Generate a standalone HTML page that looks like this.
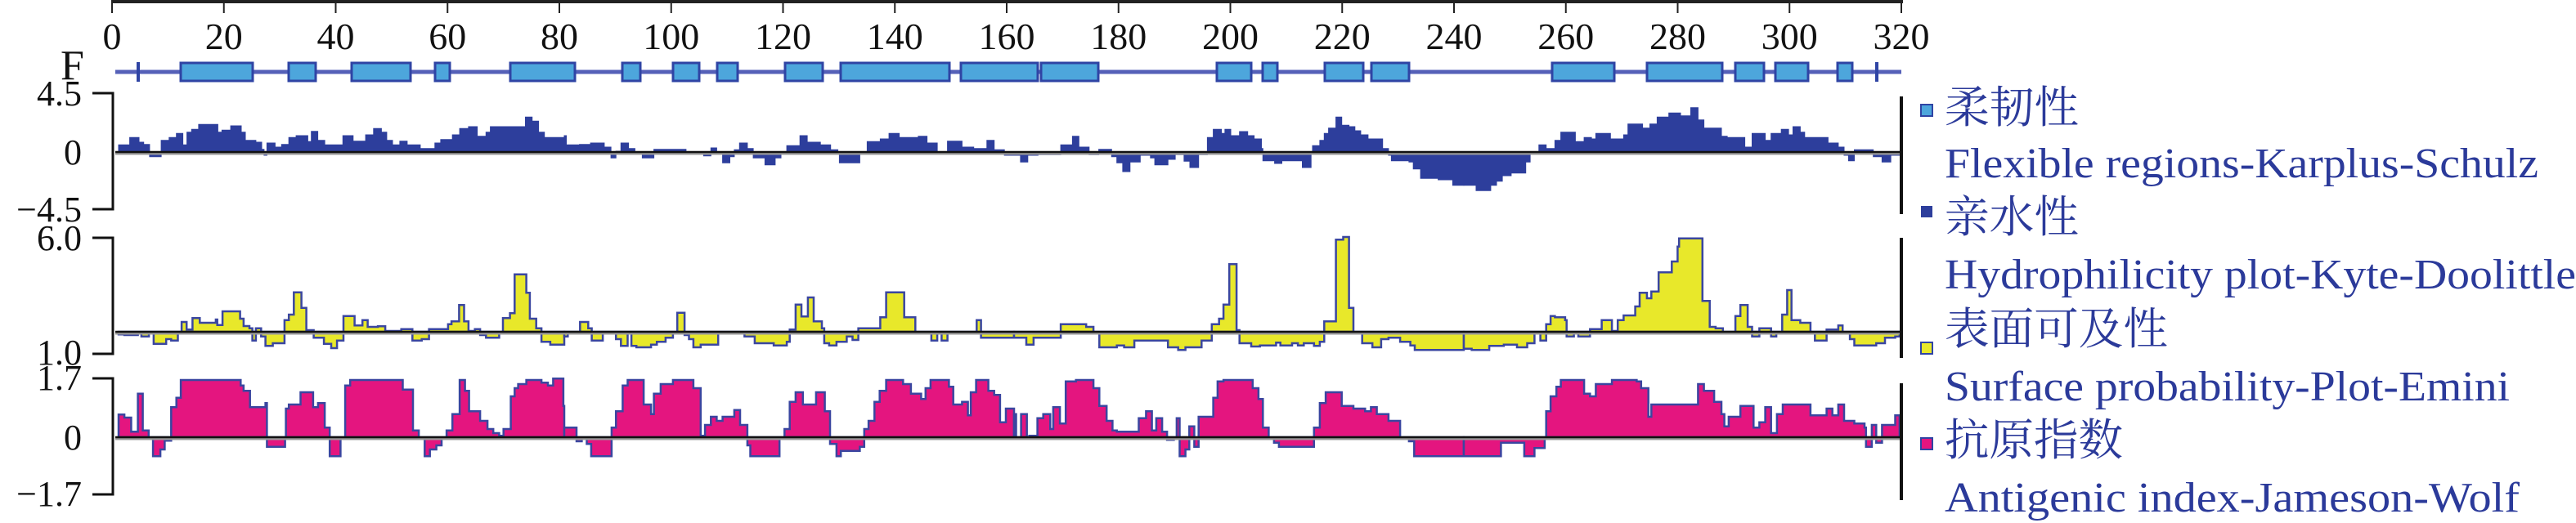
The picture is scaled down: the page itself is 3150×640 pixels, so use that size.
<!DOCTYPE html>
<html><head><meta charset="utf-8"><style>
html,body{margin:0;padding:0;background:#fff;}
svg{display:block;}
</style></head><body>
<svg id="s" width="3150" height="640" viewBox="0 0 3150 640" xmlns="http://www.w3.org/2000/svg">
<g id="data"></g>
<line x1="141" y1="188" x2="2325" y2="188" stroke="#999" stroke-width="3"/>
<line x1="141" y1="186" x2="2325" y2="186" stroke="#111" stroke-width="2.5"/>
<line x1="141" y1="408" x2="2325" y2="408" stroke="#999" stroke-width="3"/>
<line x1="141" y1="406" x2="2325" y2="406" stroke="#111" stroke-width="2.5"/>
<line x1="141" y1="537" x2="2325" y2="537" stroke="#999" stroke-width="3"/>
<line x1="141" y1="535" x2="2325" y2="535" stroke="#111" stroke-width="2.5"/>
<rect x="136" y="0" width="2191" height="4" fill="#222"/>
<g id="ticks" stroke="#222" stroke-width="2"></g>
<g font-family="'Liberation Serif',serif" font-size="46" fill="#111" text-anchor="middle" id="xl"></g>
<line x1="141" y1="88" x2="2325" y2="88" stroke="#5560b8" stroke-width="5"/>
<g id="flex" fill="#4da6dc" stroke="#2f44a4" stroke-width="3"></g>
<text x="74" y="97" font-family="'Liberation Serif',serif" font-size="52" fill="#111">F</text>
<g stroke="#111" stroke-width="3" fill="none">
<path d="M113 114 H138 V256 H113"/>
<path d="M113 291 H138 V433 H113"/>
<path d="M113 463 H138 V605 H113"/>
</g>
<g stroke="#111" stroke-width="4">
<line x1="2325" y1="118" x2="2325" y2="262"/>
<line x1="2325" y1="291" x2="2325" y2="438"/>
<line x1="2325" y1="469" x2="2325" y2="612"/>
</g>
<g font-family="'Liberation Serif',serif" font-size="44" fill="#111" text-anchor="end">
<text x="100" y="129">4.5</text>
<text x="100" y="201">0</text>
<text x="100" y="271">−4.5</text>
<text x="100" y="306">6.0</text>
<text x="100" y="446">1.0</text>
<text x="100" y="477">1.7</text>
<text x="100" y="550">0</text>
<text x="100" y="619">−1.7</text>
</g>
<rect x="2349" y="128" width="14" height="14" fill="#4da6dc" stroke="#2f44a4" stroke-width="2"/>
<rect x="2349" y="252" width="14" height="14" fill="#2d3e9c"/>
<rect x="2349" y="419" width="14" height="14" fill="#e8e82a" stroke="#2f44a4" stroke-width="2"/>
<rect x="2349" y="536" width="14" height="14" fill="#e4157f" stroke="#2f44a4" stroke-width="2"/>
<g fill="#2b3a9a" font-size="54" font-family="'Liberation Serif','Noto Serif CJK SC','Noto Sans CJK SC',serif">
<text x="2378" y="150" textLength="164" lengthAdjust="spacingAndGlyphs">柔韧性</text>
<text x="2378" y="284" textLength="164" lengthAdjust="spacingAndGlyphs">亲水性</text>
<text x="2378" y="421" textLength="273" lengthAdjust="spacingAndGlyphs">表面可及性</text>
<text x="2378" y="557" textLength="218" lengthAdjust="spacingAndGlyphs">抗原指数</text>
</g>
<g fill="#2b3a9a" font-size="52" font-family="'Liberation Serif',serif">
<text x="2378" y="217" textLength="726" lengthAdjust="spacingAndGlyphs">Flexible regions-Karplus-Schulz</text>
<text x="2378" y="353" textLength="772" lengthAdjust="spacingAndGlyphs">Hydrophilicity plot-Kyte-Doolittle</text>
<text x="2378" y="490" textLength="691" lengthAdjust="spacingAndGlyphs">Surface probability-Plot-Emini</text>
<text x="2378" y="626" textLength="703" lengthAdjust="spacingAndGlyphs">Antigenic index-Jameson-Wolf</text>
</g>
</svg>
<script>
var NS="http://www.w3.org/2000/svg";
function el(t,a,p){var e=document.createElementNS(NS,t);for(var k in a)e.setAttribute(k,a[k]);p.appendChild(e);return e;}
var tk=document.getElementById('ticks'),xl=document.getElementById('xl');
for(var i=0;i<=16;i++){var x=137+i*136.75;el('line',{x1:x,y1:2,x2:x,y2:16},tk);var t=el('text',{x:x,y:60},xl);t.textContent=String(i*20);}
var fl=document.getElementById('flex');
[[221,309],[353,386],[430,502],[532,550],[624,703],[761,783],[823,855],[877,902],[960,1006],[1028,1161],[1175,1269],[1273,1343],[1488,1530],[1544,1562],[1620,1667],[1677,1723],[1898,1974],[2014,2106],[2122,2157],[2171,2211],[2247,2265]].forEach(function(b){el('rect',{x:b[0],y:77,width:b[1]-b[0],height:22},fl);});
el('rect',{x:167,y:76,width:4,height:24,fill:'#2f44a4',stroke:'none'},fl);
el('rect',{x:2293,y:76,width:4,height:24,fill:'#2f44a4',stroke:'none'},fl);

var H=[
[130,42,1568,[42,232,80,205,112,222,128,230,148,275,188,215,215,205,240,190,262,232,276,185,292,175,316,157,382,185,396,178,426,162,462,185,476,215,512,222,532,248,540,270,550,225,578,240,600,230,625,205,650,198,690,220,702,182,724,215,748,232,810,198,845,218,888,195,915,172,942,185,960,215,980,232,1005,218,1030,232,1075,245,1125,225,1145,212,1185,195,1210,172,1240,165,1270,200,1300,185,1315,165,1435,130,1458,145,1480,185,1500,205,1568,200]],
[680,28,1568,[0,198,35,232,80,230,118,225,165,240,188,280,205,255,222,225,248,245,270,258,295,280,335,248,445,258,505,272,530,243,550,262,570,298,595,275,610,250,628,225,655,245,675,280,715,305,750,280,770,260,790,235,835,198,860,222,905,232,940,250,965,265,970,298,1040,262,1065,220,1110,210,1140,190,1175,205,1240,200,1270,225,1305,260,1340,218,1390,240,1430,245,1475,215,1500,250,1535,270,1568,270]],
[1230,28,1568,[0,270,50,295,75,270,110,268,188,232,228,200,250,240,285,268,318,248,362,275,380,298,400,330,425,295,460,270,495,280,510,305,555,285,580,268,610,292,630,315,660,268,690,205,710,175,738,190,750,175,770,198,800,183,828,198,850,210,875,245,880,290,920,300,945,290,1015,315,1045,262,1050,235,1075,215,1090,190,1105,170,1130,130,1150,160,1175,165,1195,180,1215,195,1240,210,1290,245,1310,270,1320,290,1350,290,1380,295,1395,320,1420,355,1480,360,1530,380,1568,380]],
[1780,28,1520,[0,375,20,380,70,400,120,380,140,365,160,345,190,335,240,295,255,262,285,232,310,245,340,215,360,185,410,220,440,205,465,210,480,190,530,210,575,195,590,155,640,170,665,155,690,130,730,115,770,125,805,95,830,140,850,170,910,200,930,205,990,240,1015,190,1060,215,1080,190,1115,175,1140,195,1155,165,1180,185,1195,205,1225,205,1275,225,1310,240,1330,270,1345,290,1365,250,1430,275,1460,295,1490,270,1520,250]]
];
var S=[
[130,42,1568,[42,928,62,930,108,920,120,935,146,920,162,962,205,945,222,950,245,925,258,882,275,910,295,868,320,885,375,873,380,893,398,843,458,870,470,897,490,905,500,950,512,905,530,935,545,970,570,960,610,875,625,855,642,773,668,830,685,912,710,940,745,962,770,978,790,950,812,860,850,895,877,875,895,900,930,898,955,915,1010,908,1048,950,1080,945,1105,908,1150,908,1170,890,1182,880,1208,820,1225,880,1240,915,1262,908,1280,930,1300,940,1345,918,1358,868,1382,850,1398,707,1438,775,1450,870,1472,905,1490,955,1520,965,1568,958]],
[680,28,1568,[0,960,20,935,40,925,75,918,82,882,110,905,122,950,160,925,170,918,205,945,222,970,245,922,258,970,275,975,325,965,345,955,375,940,400,918,415,848,440,930,455,945,470,975,495,965,555,925,580,918,625,925,645,935,680,960,745,968,790,955,800,910,820,818,840,862,862,792,882,880,910,905,918,960,935,968,960,955,995,935,1015,948,1035,905,1110,865,1130,773,1192,865,1230,918,1285,950,1305,918,1320,950,1340,925,1440,875,1455,940,1568,938]],
[1230,28,1568,[0,940,70,965,95,940,188,890,275,900,300,925,320,975,380,968,405,975,440,950,555,975,590,985,615,975,670,950,705,890,730,870,745,818,765,670,790,912,800,960,840,972,870,968,925,958,940,968,980,960,1000,968,1020,960,1055,970,1075,955,1090,880,1130,580,1155,570,1175,830,1190,925,1220,960,1255,975,1285,945,1310,940,1350,955,1385,968,1400,985,1465,985,1530,985,1568,980]],
[1780,28,1520,[0,980,55,985,115,970,165,965,210,975,245,960,270,925,290,950,310,890,325,860,340,865,375,875,380,935,405,925,420,935,460,908,500,875,535,915,555,875,575,858,615,825,630,775,655,795,670,770,695,700,740,660,760,605,765,575,845,805,870,900,890,905,915,925,945,918,958,860,975,820,1000,900,1015,935,1040,905,1080,935,1098,918,1118,855,1135,765,1150,875,1180,885,1215,925,1230,950,1270,910,1310,895,1325,918,1350,945,1365,968,1440,960,1470,940,1505,935,1520,935]]
];
var A=[
[130,42,1568,[42,1222,62,1233,85,1285,108,1145,125,1280,145,1310,160,1375,185,1350,200,1318,222,1195,240,1160,255,1095,460,1115,470,1135,492,1195,545,1180,550,1340,612,1305,615,1200,625,1185,665,1140,708,1195,725,1180,748,1270,765,1375,802,1310,818,1115,835,1095,1015,1130,1050,1280,1070,1305,1090,1375,1108,1350,1130,1335,1148,1305,1165,1280,1185,1220,1210,1095,1228,1135,1242,1210,1280,1245,1305,1275,1325,1290,1345,1300,1360,1275,1385,1155,1398,1125,1410,1110,1438,1095,1490,1105,1512,1115,1530,1090,1565,1190]],
[680,28,1568,[0,1095,15,1180,28,1270,70,1320,88,1305,105,1330,120,1375,190,1270,205,1210,228,1115,245,1095,300,1185,325,1220,335,1145,358,1110,400,1095,470,1125,495,1300,510,1260,530,1230,550,1245,570,1230,610,1205,630,1260,655,1335,665,1375,765,1305,782,1275,800,1175,820,1140,845,1185,890,1140,920,1210,938,1330,960,1375,975,1355,1040,1340,1055,1275,1070,1245,1090,1175,1108,1135,1130,1095,1188,1110,1215,1145,1250,1165,1265,1125,1282,1095,1345,1120,1360,1185,1390,1175,1410,1225,1420,1140,1438,1095,1480,1135,1500,1150,1520,1250,1540,1200,1568,1200]],
[1230,28,1568,[0,1198,18,1220,35,1305,52,1220,72,1305,80,1300,108,1235,128,1220,152,1275,162,1195,185,1255,205,1100,240,1095,265,1095,300,1125,320,1190,345,1245,365,1280,380,1285,455,1235,480,1210,500,1280,515,1235,535,1285,552,1315,575,1305,585,1235,595,1375,615,1350,628,1265,645,1340,660,1230,710,1160,725,1100,745,1095,845,1125,865,1165,880,1270,900,1305,918,1325,935,1340,1055,1270,1075,1180,1095,1140,1150,1190,1190,1200,1230,1210,1250,1195,1270,1220,1310,1245,1350,1305,1380,1320,1398,1375,1568,1375]],
[1780,28,1520,[0,1375,155,1325,235,1375,270,1345,305,1305,310,1210,325,1155,345,1120,360,1095,440,1145,460,1155,480,1110,535,1095,620,1100,635,1125,660,1230,670,1185,830,1110,850,1135,885,1175,910,1220,920,1265,935,1230,975,1190,1020,1270,1040,1250,1060,1195,1080,1290,1100,1220,1120,1185,1215,1225,1270,1200,1290,1225,1310,1185,1330,1245,1365,1255,1400,1270,1405,1340,1425,1260,1440,1325,1460,1260,1505,1225,1520,1225]]
];
function build(segs,base,fill,stroke,sw){
  var g=document.getElementById('data');
  segs.forEach(function(sg){
    var x0=sg[0],st=sg[1],en=sg[2],d=sg[3];
    var X=function(z){return (x0+z/2.8).toFixed(1);},Y=function(z){return (100+z/3).toFixed(1);};
    var cur=d[1];for(var i=0;i<d.length;i+=2){if(d[i]<=st)cur=d[i+1];}
    var p='M'+X(st)+' '+Y(base)+' V'+Y(cur);
    for(var i=0;i<d.length;i+=2){if(d[i]>st&&d[i]<en){p+=' H'+X(d[i])+' V'+Y(d[i+1]);}}
    p+=' H'+X(en)+' V'+Y(base)+' Z';
    el('path',{d:p,fill:fill,stroke:stroke,'stroke-width':sw,'stroke-linejoin':'miter'},g);
  });
}
build(H,260,'#2d3e9c','#2d3e9c',1);
build(S,918,'#e8e82a','#3a46a0',2.5);
build(A,1305,'#e4157f','#3a46a0',2.5);
</script>
</body></html>
